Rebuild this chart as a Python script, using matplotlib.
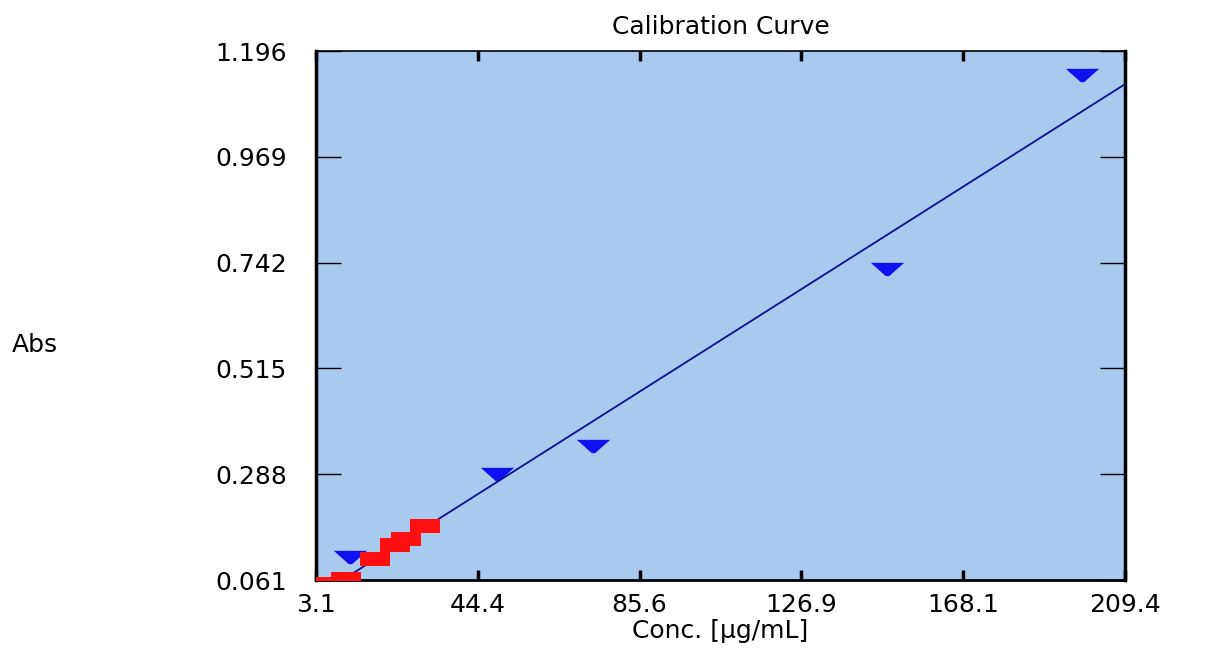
import numpy as np
import matplotlib.pyplot as plt

# standards (blue) and samples (red)
std_conc = [11.8, 49.3, 73.8, 148.8, 198.5]
std_abs = [0.110, 0.289, 0.348, 0.729, 1.145]
smp_conc = [3.6, 10.8, 18.2, 23.3, 26.1, 30.9]
smp_abs = [0.052, 0.064, 0.106, 0.137, 0.149, 0.177]

# fitted calibration line
fit_slope = 0.00533
fit_icpt = 0.0088

xticks = [3.1, 44.4, 85.6, 126.9, 168.1, 209.4]
yticks = [0.061, 0.288, 0.515, 0.742, 0.969, 1.196]

tri = [(-1, 0.4), (1, 0.4), (0.1, -0.4), (-0.1, -0.4), (-1, 0.4)]
rect = [(-1, -0.45), (1, -0.45), (1, 0.45), (-1, 0.45), (-1, -0.45)]

fig = plt.figure(figsize=(12.19, 6.54), dpi=100)
ax = fig.add_axes([0.2592, 0.1131, 0.6637, 0.8089])
ax.set_facecolor('#a9c9ee')

ax.plot(std_conc, std_abs, linestyle='none', marker=tri, markersize=24,
        color='#1010f0', markeredgewidth=0, zorder=3)
xx = np.array([xticks[0], xticks[-1]])
ax.plot(xx, fit_slope * xx + fit_icpt, color='#101090', linewidth=1.3, zorder=4)
ax.plot(smp_conc, smp_abs, linestyle='none', marker=rect, markersize=22,
        color='#ff1010', markeredgewidth=0, zorder=5)

ax.set_xlim(xticks[0], xticks[-1])
ax.set_ylim(yticks[0], yticks[-1])
ax.set_xticks(xticks)
ax.set_xticklabels(['%.1f' % v for v in xticks])
ax.set_yticks(yticks)
ax.set_yticklabels(['%.3f' % v for v in yticks])

ax.tick_params(axis='x', direction='in', length=7, width=2.5, top=True,
               pad=9, labelsize=18)
ax.tick_params(axis='y', direction='in', length=18, width=1, right=True,
               pad=21, labelsize=18)

ax.spines['left'].set_linewidth(2.5)
ax.spines['right'].set_linewidth(2.5)
ax.spines['bottom'].set_linewidth(2)
ax.spines['top'].set_linewidth(1.2)

ax.set_title('Calibration Curve', fontsize=18, pad=12)
ax.set_xlabel('Conc. [µg/mL]', fontsize=18, labelpad=2)
fig.text(12 / 1219, 1 - 345 / 654, 'Abs', fontsize=18, ha='left', va='center')

fig.savefig('out.png', dpi=100)
